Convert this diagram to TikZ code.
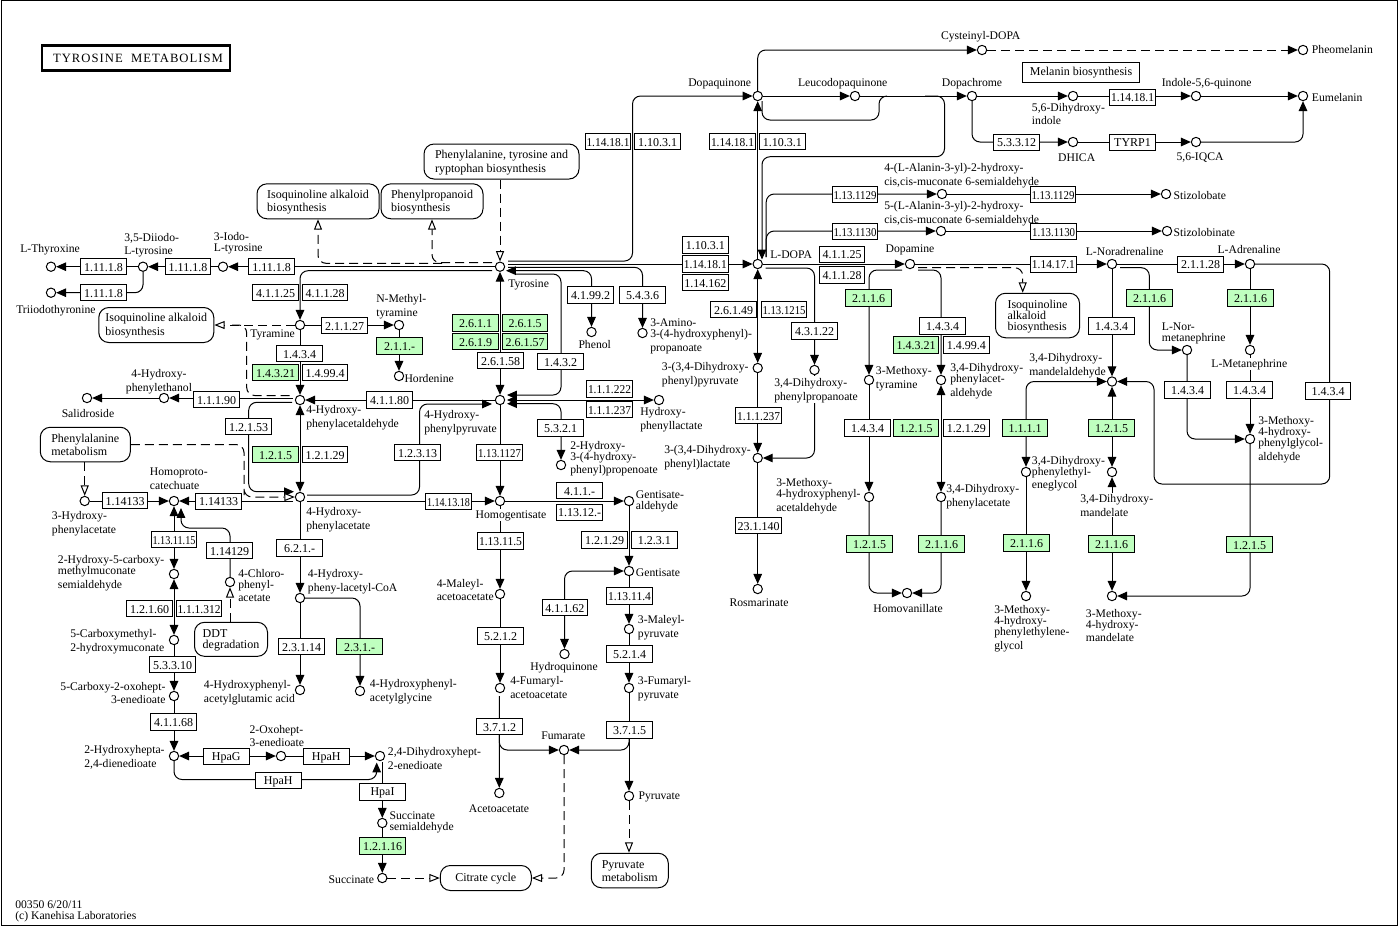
\documentclass[tikz,border=0pt]{standalone}
\usepackage{fontspec}
\usepackage{graphicx}
\setmainfont{Liberation Serif}
\newfontfamily\titlefont[LetterSpace=8]{Liberation Serif}
\usetikzlibrary{arrows.meta,calc,backgrounds}
\definecolor{ecgreen}{RGB}{191,255,191}
\newcounter{lc}
\newcommand\sst{\vrule width0pt height7.5pt depth.75pt\relax}
\newcommand\fitec[1]{\sbox0{#1}\ifdim\wd0>32.25pt\resizebox{32.25pt}{\height}{#1}\else #1\fi}
\tikzset{
  every node/.style={font=\fontsize{9}{8.25}\selectfont},
  cp/.style={circle,draw=black,fill=white,line width=.75pt,minimum size=7pt,inner sep=0pt},
  lbl/.style={anchor=west,align=left,inner sep=0pt,font=\fontsize{8.75}{8.25}\selectfont},
  lblw/.style={fill=white},
  ecb/.style={draw=black,fill=white,line width=.75pt,minimum width=34.1pt,minimum height=12.4pt,inner sep=0pt},
  grn/.style={fill=ecgreen},
  mapb/.style={draw=black,fill=white,line width=.75pt,rounded corners=7.5pt,align=left,inner sep=0pt},
  ln/.style={line width=.75pt,draw=black},
  ar/.style={ln,-{Triangle[width=6.4pt,length=7.4pt]}},
  ab/.style={ln,{Triangle[width=6.4pt,length=7.4pt]}-{Triangle[width=6.4pt,length=7.4pt]}},
  oa/.style={ln,-{Triangle[open,fill=white,width=6pt,length=7.8pt]}},
  dh/.style={dash pattern=on 6.75pt off 3.75pt},
  rc/.style={rounded corners=6pt},
}
\newcommand\cpn[2]{\node[cp] (#1) at (#2) {};}
\newcommand\lab[3][]{\stepcounter{lc}\node[lbl,#1] (lb\arabic{lc}) at (#2) {\sst #3\sst};}
\newcommand\ec[3][]{\stepcounter{lc}\node[ecb,#1] (ec\arabic{lc}) at (#2) {\sst\fitec{#3}\sst};}
\newcommand\mapn[5]{\node[mapb,minimum width=#3*.75pt,minimum height=#4*.75pt] (#1) at (#2) {\sst #5\sst};}
\begin{document}
\begin{tikzpicture}[x=.75pt,y=-.75pt]
\useasboundingbox (0,0) rectangle (1398,926);
\node[draw=black,line width=.75pt,minimum width=1047pt,minimum height=693.6pt,inner sep=0pt] (frame) at (699,463) {};
\node[draw=black,line width=1.8pt,fill=white,minimum width=141pt,minimum height=18.5pt,inner sep=0pt,font=\fontsize{9.5}{9.5}\titlefont] (title) at (136,58) {\hspace{3pt}\sst TYROSINE\ \ METABOLISM};
%% pathway maps
\mapn{mPhe}{501.5,161.5}{155}{35}{Phenylalanine, tyrosine and\\ryptophan biosynthesis}
\mapn{mIso1}{318,201.3}{122}{35}{Isoquinoline alkaloid\\biosynthesis}
\mapn{mPhp}{432,201.3}{102}{35}{Phenylpropanoid\\biosynthesis}
\mapn{mIso2}{156.3,325}{115}{35}{Isoquinoline alkaloid\\biosynthesis}
\mapn{mIso3}{1037.5,315.5}{84}{44.5}{Isoquinoline\\alkaloid\\biosynthesis}
\mapn{mPheM}{85.3,444.5}{90}{34.5}{Phenylalanine\\metabolism}
\mapn{mDDT}{231,639.3}{73}{34}{DDT\\degradation}
\mapn{mCit}{485.8,878}{91}{25}{Citrate cycle}
\mapn{mPyr}{629.8,870.5}{77}{34.5}{Pyruvate\\metabolism}
\node[draw=black,fill=white,line width=.75pt,minimum width=87.5pt,minimum height=15pt,inner sep=0pt] (mMel) at (1081,72) {\sst Melanin biosynthesis};
%% enzymes
\ec{103.5,266.7}{1.11.1.8}
\ec{188,266.7}{1.11.1.8}
\ec{271.7,266.7}{1.11.1.8}
\ec{103.5,292.7}{1.11.1.8}
\ec{275.5,292.7}{4.1.1.25}
\ec{325,292.7}{4.1.1.28}
\ec{344.7,325.5}{2.1.1.27}
\ec[grn]{399.7,346}{2.1.1.-}
\ec{299.5,353.7}{1.4.3.4}
\ec[grn]{275.5,372.7}{1.4.3.21}
\ec{325,372.7}{1.4.99.4}
\ec{216.7,399.5}{1.1.1.90}
\ec{389.7,400}{4.1.1.80}
\ec{248.7,426.7}{1.2.1.53}
\ec[grn]{275.5,454.7}{1.2.1.5}
\ec{325,454.7}{1.2.1.29}
\ec{417.5,452.7}{1.2.3.13}
\ec{125,500.7}{1.14133}
\ec{218.7,501.3}{1.14133}
\ec{174,539.7}{1.13.11.15}
\ec{229.7,550.7}{1.14129}
\ec{149.7,608.7}{1.2.1.60}
\ec{199,608.7}{1.1.1.312}
\ec{172.7,664.7}{5.3.3.10}
\ec{173.7,722}{4.1.1.68}
\ec{299.5,548}{6.2.1.-}
\ec{301.7,646.7}{2.3.1.14}
\ec[grn]{359.7,646.7}{2.3.1.-}
\ec{226.3,756.7}{HpaG}
\ec{326.3,756.7}{HpaH}
\ec{278.3,780.7}{HpaH}
\ec{382.5,792}{HpaI}
\ec[grn]{382.5,846}{1.2.1.16}
\ec[grn]{475.5,323}{2.6.1.1}
\ec[grn]{525,323}{2.6.1.5}
\ec[grn]{475.5,341.7}{2.6.1.9}
\ec[grn]{525,341.7}{2.6.1.57}
\ec{500.5,360.7}{2.6.1.58}
\ec{560.5,361.7}{1.4.3.2}
\ec{590.6,295}{4.1.99.2}
\ec{642.5,295}{5.4.3.6}
\ec{705.3,245}{1.10.3.1}
\ec{705.3,264}{1.14.18.1}
\ec{705.3,282.7}{1.14.162}
\ec{733.5,309.7}{2.6.1.49}
\ec{784,309.7}{1.13.1215}
\ec{814.5,331}{4.3.1.22}
\ec{609.5,389}{1.1.1.222}
\ec{609.5,409.7}{1.1.1.237}
\ec{560.5,428}{5.3.2.1}
\ec{758.7,415.7}{1.1.1.237}
\ec{499.5,452.7}{1.13.1127}
\ec{448.5,501.7}{1.14.13.18}
\ec{579.5,490.7}{4.1.1.-}
\ec{579.5,512.3}{1.13.12.-}
\ec{500.5,541}{1.13.11.5}
\ec{604.7,540}{1.2.1.29}
\ec{654.3,540}{1.2.3.1}
\ec{564.8,607.7}{4.1.1.62}
\ec{629.5,596}{1.13.11.4}
\ec{500.5,636}{5.2.1.2}
\ec{629.5,654}{5.2.1.4}
\ec{499.5,726.7}{3.7.1.2}
\ec{629.5,730}{3.7.1.5}
\ec{758.7,525.7}{23.1.140}
\ec{608,141.7}{1.14.18.1}
\ec{657.7,141.7}{1.10.3.1}
\ec{732.5,141.7}{1.14.18.1}
\ec{782.3,141.7}{1.10.3.1}
\ec{1016.7,142.3}{5.3.3.12}
\ec{855,194.7}{1.13.1129}
\ec{855,231.7}{1.13.1130}
\ec{1053,194.7}{1.13.1129}
\ec{1053.6,231.7}{1.13.1130}
\ec{842,254.3}{4.1.1.25}
\ec{842,275}{4.1.1.28}
\ec{1053.4,264.3}{1.14.17.1}
\ec{1132.5,97.3}{1.14.18.1}
\ec{1132.5,142.3}{TYRP1}
\ec{1200.5,264.3}{2.1.1.28}
\ec[grn]{868.5,298}{2.1.1.6}
\ec{942.5,326}{1.4.3.4}
\ec[grn]{916,345}{1.4.3.21}
\ec{966.3,345}{1.4.99.4}
\ec[grn]{1149.5,298}{2.1.1.6}
\ec[grn]{1250.5,298}{2.1.1.6}
\ec{1111.5,326}{1.4.3.4}
\ec{1187.5,390}{1.4.3.4}
\ec{1249.5,390}{1.4.3.4}
\ec{1328,391}{1.4.3.4}
\ec{867.5,428}{1.4.3.4}
\ec[grn]{916,428}{1.2.1.5}
\ec{966.3,428}{1.2.1.29}
\ec[grn]{1025.2,428}{1.1.1.1}
\ec[grn]{1111.5,428}{1.2.1.5}
\ec[grn]{869.5,544}{1.2.1.5}
\ec[grn]{941.5,544}{2.1.1.6}
\ec[grn]{1026.5,543}{2.1.1.6}
\ec[grn]{1111.5,544}{2.1.1.6}
\ec[grn]{1249.5,544.7}{1.2.1.5}
%% compound labels
\lab{20,249}{L-Thyroxine}
\lab{124,244.5}{3,5-Diiodo-\\L-tyrosine}
\lab{213.7,242.5}{3-Iodo-\\L-tyrosine}
\lab{16,310}{Triiodothyronine}
\lab{376,305.5}{N-Methyl-\\tyramine}
\lab{250,334}{Tyramine}
\lab{404.3,377.7}{Hordenine}
\lab[anchor=center,align=center]{159,380.5}{4-Hydroxy-\\phenylethanol}
\lab[anchor=center]{88,412.7}{Salidroside}
\lab{306,417}{4-Hydroxy-\\phenylacetaldehyde}
\lab{424,421.5}{4-Hydroxy-\\phenylpyruvate}
\lab{508,284}{Tyrosine}
\lab[anchor=center]{594.7,344}{Phenol}
\lab{650,335}{3-Amino-\\3-(4-hydroxyphenyl)-\\propanoate}
\lab{640,418.5}{Hydroxy-\\phenyllactate}
\lab{570,457.7}{2-Hydroxy-\\3-(4-hydroxy-\\phenyl)propenoate}
\lab{661.7,373.5}{3-(3,4-Dihydroxy-\\phenyl)pyruvate}
\lab[lblw]{774,389.5}{3,4-Dihydroxy-\\phenylpropanoate}
\lab{664,457}{3-(3,4-Dihydroxy-\\phenyl)lactate}
\lab{776,495}{3-Methoxy-\\4-hydroxyphenyl-\\acetaldehyde}
\lab[anchor=center]{759,602}{Rosmarinate}
\lab[anchor=center,lblw]{511,515}{Homogentisate}
\lab{635.7,500.5}{Gentisate-\\aldehyde}
\lab{635.7,571.7}{Gentisate}
\lab{436.5,589.5}{4-Maleyl-\\acetoacetate}
\lab[anchor=center]{564,667}{Hydroquinone}
\lab{637.7,626.5}{3-Maleyl-\\pyruvate}
\lab{637.7,688}{3-Fumaryl-\\pyruvate}
\lab{510,687}{4-Fumaryl-\\acetoacetate}
\lab[anchor=center]{563.3,735}{Fumarate}
\lab[anchor=center]{499,807.7}{Acetoacetate}
\lab{638.3,796}{Pyruvate}
\lab{387.7,758}{2,4-Dihydroxyhept-\\2-enedioate}
\lab{249.3,735.5}{2-Oxohept-\\3-enedioate}
\lab{389.3,821.5}{Succinate\\semialdehyde}
\lab[anchor=east]{374.3,879}{Succinate}
\lab{149.7,478}{Homoproto-\\catechuate}
\lab{51.7,522.5}{3-Hydroxy-\\phenylacetate}
\lab{57.7,572}{2-Hydroxy-5-carboxy-\\methylmuconate\\semialdehyde}
\lab{70,640.5}{5-Carboxymethyl-\\2-hydroxymuconate}
\lab[anchor=east,align=right]{165.7,692.5}{5-Carboxy-2-oxohept-\\3-enedioate}
\lab{84,756.5}{2-Hydroxyhepta-\\2,4-dienedioate}
\lab{306,519}{4-Hydroxy-\\phenylacetate}
\lab{238,585}{4-Chloro-\\phenyl-\\acetate}
\lab{307.7,581}{4-Hydroxy-\\pheny-lacetyl-CoA}
\lab{203.7,692}{4-Hydroxyphenyl-\\acetylglutamic acid}
\lab{369.7,690.5}{4-Hydroxyphenyl-\\acetylglycine}
\lab[anchor=center]{719.7,82.7}{Dopaquinone}
\lab[anchor=center]{842.7,82.7}{Leucodopaquinone}
\lab[anchor=center]{972,82.7}{Dopachrome}
\lab[anchor=center]{980.7,35.7}{Cysteinyl-DOPA}
\lab{770,254.3}{L-DOPA}
\lab[anchor=center]{910,249}{Dopamine}
\lab{884,174.5}{4-(L-Alanin-3-yl)-2-hydroxy-\\cis,cis-muconate 6-semialdehyde}
\lab{884,213}{5-(L-Alanin-3-yl)-2-hydroxy-\\cis,cis-muconate 6-semialdehyde}
\lab{1311.7,49}{Pheomelanin}
\lab{1311.7,97}{Eumelanin}
\lab{1031.7,113.5}{5,6-Dihydroxy-\\indole}
\lab[anchor=center]{1206.7,83}{Indole-5,6-quinone}
\lab[anchor=center]{1076.7,156.7}{DHICA}
\lab[anchor=center]{1200,156.7}{5,6-IQCA}
\lab{1173.3,194.7}{Stizolobate}
\lab{1173.3,232}{Stizolobinate}
\lab[anchor=center]{1124.7,250.7}{L-Noradrenaline}
\lab[anchor=center]{1249,249}{L-Adrenaline}
\lab{1161.7,332.5}{L-Nor-\\metanephrine}
\lab[anchor=center,lblw]{1249.3,364}{L-Metanephrine}
\lab{875.7,378}{3-Methoxy-\\tyramine}
\lab{950,380.3}{3,4-Dihydroxy-\\phenylacet-\\aldehyde}
\lab{1029,364.5}{3,4-Dihydroxy-\\mandelaldehyde}
\lab{1258,439}{3-Methoxy-\\4-hydroxy-\\phenylglycol-\\aldehyde}
\lab{1031.7,472.7}{3,4-Dihydroxy-\\phenylethyl-\\eneglycol}
\lab[lblw]{1080,505}{3,4-Dihydroxy-\\mandelate}
\lab{946,495.5}{3,4-Dihydroxy-\\phenylacetate}
\lab[anchor=center]{908,608}{Homovanillate}
\lab{994,628}{3-Methoxy-\\4-hydroxy-\\phenylethylene-\\glycol}
\lab{1085.7,625}{3-Methoxy-\\4-hydroxy-\\mandelate}
\lab{15,904}{00350 6/20/11}
\lab{15,916}{(c) Kanehisa Laboratories}
%% compounds
\cpn{tyr}{500,266.7}
\cpn{hpp}{500,400}
\cpn{hga}{500,501}
\cpn{ldopa}{757.7,264}
\cpn{dq}{757.7,96}
\cpn{leuco}{855,96}
\cpn{dchrome}{972,96}
\cpn{cys}{982,50}
\cpn{pheo}{1303,50}
\cpn{eu}{1303,96}
\cpn{dhi}{1073,96}
\cpn{iq}{1196,96}
\cpn{dhica}{1073,142}
\cpn{iqca}{1196,142}
\cpn{stz}{1166,194}
\cpn{stzn}{1167,231}
\cpn{alaA}{942,194}
\cpn{alaB}{941,231}
\cpn{da}{910,264}
\cpn{na}{1112,264}
\cpn{ad}{1250,264}
\cpn{nmn}{1187,350}
\cpn{mn}{1250,350}
\cpn{dhma}{1112,381.5}
\cpn{mhpg}{1250,439}
\cpn{mtt}{869,380}
\cpn{dopal}{941,380}
\cpn{dopeg}{1026,472}
\cpn{dhmand}{1112,472}
\cpn{mhpa}{869,497}
\cpn{dopac}{941,497}
\cpn{hva}{907,593}
\cpn{mopeg}{1026,596}
\cpn{vma}{1112,596}
\cpn{dhpp}{757.7,368}
\cpn{dhprop}{814.5,370}
\cpn{dhlac}{757.7,458}
\cpn{rosm}{757.7,589}
\cpn{phenol}{591.5,332}
\cpn{amino}{642.5,333}
\cpn{hplac}{659,400}
\cpn{hpprop}{561,465}
\cpn{gald}{629,501}
\cpn{gent}{629,571}
\cpn{hq}{564.5,654}
\cpn{mal}{629,629}
\cpn{fum}{629,688}
\cpn{pyr}{629,796}
\cpn{fumarate}{564,750}
\cpn{maa}{500,594}
\cpn{faa}{500,688}
\cpn{aca}{499.3,793}
\cpn{succ}{382.3,878}
\cpn{ssa}{382.3,823}
\cpn{dhhept}{380,756}
\cpn{oxohept}{281,756}
\cpn{hhd}{174,756}
\cpn{coh}{174,696}
\cpn{cmhm}{174,640}
\cpn{hcms}{174,574}
\cpn{hpc}{174,501}
\cpn{hpaT}{84.7,501}
\cpn{cpa}{230,582}
\cpn{hpaF}{300,497}
\cpn{coa}{300,598}
\cpn{glu}{300,690}
\cpn{gly}{360,691}
\cpn{hpal}{300,400}
\cpn{tyra}{300,325}
\cpn{nmt}{399,325}
\cpn{hord}{399,376}
\cpn{heth}{164,398}
\cpn{sal}{87,398}
\cpn{iodo}{223,266.7}
\cpn{diiodo}{143,266.7}
\cpn{tf}{51,266.7}
\cpn{tt}{51,292.7}
%% connectors
\begin{scope}[on background layer]
\draw[oa,dh] (mPhe.south -| tyr) -- (tyr);
\draw[oa,dh,rc] ($(tyr)+(-8,-4)$) -| (mPhp.south);
\draw[oa,dh,rc] ($(mPhp.south)+(10,44)$) -| (mIso1.south);
\draw[ar] (tyr) -- (iodo);
\draw[ar] (iodo) -- (diiodo);
\draw[ar] (diiodo) -- (tf);
\draw[ar,rc] (diiodo) |- (tt);
\draw[ar,rc] ($(tyr)+(-8,4)$) -| (tyra);
\draw[ab] (tyr) -- (hpp);
\draw[ar] ($(tyr)+(8,-2.7)$) -- (ldopa);
\draw[ar,rc] ($(tyr)+(8,-5.7)$) -- ($(tyr)+(132.5,-5.7)$) |- (dq);
\draw[ar,rc] ($(tyr)+(8,.6)$) -| (amino);
\draw[ar,rc] ($(tyr)+(8,4)$) -| (phenol);
\draw[ar] ($(tyr)+(16,4)$) -- ($(tyr)+(6,4)$);
\draw[ar,rc] ($(tyr)+(16,7.3)$) -- ($(tyr)+(61,7.3)$) |- ($(hpp)+(7,-5)$);
\draw[ab] ($(hpp)+(7,0)$) -- (hplac);
\draw[ab,rc] ($(hpp)+(7,3.7)$) -| (hpprop);
\draw[ar] (hpp) -- (hga);
\draw[ar] (hpp) -- (hpal);
\draw[ar,rc] ($(hpaF)+(7,-2)$) -- ($(hpaF)+(119.5,-2)$) |- ($(hpp)+(-8,4)$);
\draw[ar] ($(hpaF)+(7,4)$) -- (hga);
\draw[ar] ($(hpaF)+(-7,4)$) -- (hpc);
\draw[ar] (hpaT) -- (hpc);
\draw[ar] (tyra) -- (hpal);
\draw[ar] (tyra) -- (nmt);
\draw[ar] (nmt) -- (hord);
\draw[oa,dh] (tyra) -- (mIso2.east);
\draw[ln,dh,rc] ($(tyra)+(-68,0)$) -- ($(tyra)+(-53.3,0)$) |- ($(hpal)+(-8,-4.5)$);
\draw[ar] ($(hpal)+(-7,-2)$) -- (heth);
\draw[ar] (heth) -- (sal);
\draw[ar,rc] ($(hpal)+(-8,2.3)$) -- ($(hpal)+(-51.3,2.3)$) |- ($(hpaF)+(-6,-5.3)$);
\draw[oa,dh,rc] (mPheM.east) -| ($(hpaF)+(-56,-10)$) |- (hpaF);
\draw[ab] (hpal) -- (hpaF);
\draw[ar] (hpaF) -- (coa);
\draw[ar] (coa) -- (glu);
\draw[ar,rc] (coa) -| (gly);
\draw[oa,dh] (mPheM.south -| hpaT) -- (hpaT);
\draw[ab] (hpc) -- (hcms);
\draw[ar,rc] (cpa) -- ($(cpa)+(0,-54)$) -| ($(hpc)+(7,7)$);
\draw[oa,dh] (mDDT.north -| cpa) -- (cpa);
\draw[ab] (hcms) -- (cmhm);
\draw[ar] (cmhm) -- (coh);
\draw[ar] (coh) -- (hhd);
\draw[ab] (hhd) -- (oxohept);
\draw[ar] (oxohept) -- (dhhept);
\draw[ar,rc] (hhd) |- ($(dhhept)+(-3.3,23.5)$) -- ($(dhhept)+(-3.3,6.5)$);
\draw[ar] ($(dhhept)+(2.3,6)$) -- (ssa);
\draw[ar] (ssa) -- (succ);
\draw[oa,dh] (succ) -- (mCit.west);
\draw[ar] (hga) -- (maa);
\draw[ar] (maa) -- (faa);
\draw[ar] ($(faa)+(-.7,8)$) -- (aca);
\draw[ar,rc] ($(faa)+(-.7,46)$) |- (fumarate);
\draw[ar] (hga) -- (gald);
\draw[ar] (gald) -- (gent);
\draw[ar] (gent) -- (mal);
\draw[ar] (mal) -- (fum);
\draw[ar] (fum) -- (pyr);
\draw[ar,rc] ($(fum)+(0,48)$) |- (fumarate);
\draw[ab,rc] (gent) -| (hq);
\draw[oa,dh,rc] (fumarate) |- (mCit.east);
\draw[oa,dh] (pyr) -- (mPyr.north -| pyr);
\draw[ar] (ldopa) -- (dq);
\draw[ln,rc] ($(leuco)+(32,0)$) -- ($(leuco)+(24,0)$) -- ($(leuco)+(24,24)$) -- ($(dq)+(4.3,24)$) -- ($(dq)+(4.3,5)$);
\draw[ar,rc] ($(dchrome)+(-47,0)$) -- ($(dchrome)+(-27.5,0)$) -- ($(dchrome)+(-27.5,60.7)$) -- ($(dq)+(4.3,60.7)$) -- ($(ldopa)+(4.3,-4.5)$);
\draw[ar,rc] ($(ldopa)+(8.5,-7)$) |- (alaA);
\draw[ar,rc] ($(ldopa)+(8.5,-7)$) |- (alaB);
\draw[ar] (alaA) -- (stz);
\draw[ar] (alaB) -- (stzn);
\draw[ar] (ldopa) -- (da);
\draw[ar,rc] ($(ldopa)+(8,4)$) -| (dhprop);
\draw[ab] (ldopa) -- (dhpp);
\draw[ar] (dhpp) -- (dhlac);
\draw[ar] (dhlac) -- (rosm);
\draw[ar,rc] (dhprop) |- (dhlac);
\draw[ar,rc] (dq) |- (cys);
\draw[ar] (dq) -- (leuco);
\draw[ar] (leuco) -- (dchrome);
\draw[ar] (dchrome) -- (dhi);
\draw[ar] (dhi) -- (iq);
\draw[ar] (iq) -- (eu);
\draw[ar,dh] (cys) -- (pheo);
\draw[ar,rc] (dchrome) |- (dhica);
\draw[ar] (dhica) -- (iqca);
\draw[ar,rc] (iqca) -| (eu);
\draw[ar] (da) -- (na);
\draw[ar] (na) -- (ad);
\draw[ar,rc] ($(da)+(-8,6)$) -| (mtt);
\draw[ar,rc] ($(da)+(8,6)$) -| (dopal);
\draw[oa,dh,rc] ($(da)+(8,3.7)$) -| ($(mIso3.north)+(-14.8,0)$);
\draw[ar] (mtt) -- (mhpa);
\draw[ar,rc] (mhpa) |- (hva);
\draw[ab] (dopal) -- (dopac);
\draw[ar,rc] (dopac) |- (hva);
\draw[ar] (na) -- (dhma);
\draw[ab] (dhmand) -- (dhma);
\draw[ab] (dhmand) -- (vma);
\draw[ab,rc] (dopeg) |- (dhma);
\draw[ar] (dopeg) -- (mopeg);
\draw[ar,rc] ($(na)+(8,3.7)$) -| ($(nmn)+(-37.7,-20)$) |- (nmn);
\draw[ar] (ad) -- (mn);
\draw[ar] (mn) -- (mhpg);
\draw[ar,rc] (nmn) |- (mhpg);
\draw[ar,rc] (ad) -- ($(ad)+(79.7,0)$) -- ($(ad)+(79.7,220)$) -- ($(ad)+(-96,220)$) |- (dhma);
\draw[ar,rc] (mhpg) |- (vma);
\end{scope}
\end{tikzpicture}
\end{document}
